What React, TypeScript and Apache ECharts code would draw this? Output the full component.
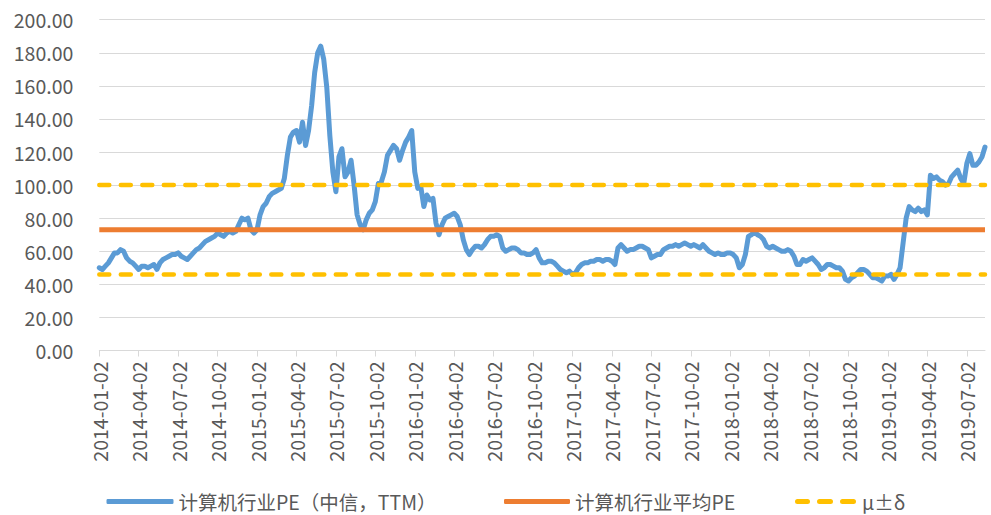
import React, { useEffect, useRef } from "react";
import * as echarts from "echarts";

// Quarter tick labels on the x axis (each quarter holds 13 weekly samples)
const quarterLabels = [
  "2014-01-02", "2014-04-02", "2014-07-02", "2014-10-02",
  "2015-01-02", "2015-04-02", "2015-07-02", "2015-10-02",
  "2016-01-02", "2016-04-02", "2016-07-02", "2016-10-02",
  "2017-01-02", "2017-04-02", "2017-07-02", "2017-10-02",
  "2018-01-02", "2018-04-02", "2018-07-02", "2018-10-02",
  "2019-01-02", "2019-04-02", "2019-07-02",
];
const weeksPerQuarter = 13;

// 计算机行业PE（中信，TTM）— weekly samples
const peValues = [
  50, 49, 51, 53, 56, 59, 59, 61, 60, 56, 54, 53, 51,
  49, 51, 51, 50, 51, 52, 49, 53, 55, 56, 57, 58, 58,
  59, 57, 56, 55, 57, 59, 61, 62, 64, 66, 67, 68, 69,
  71, 70, 69, 71, 72, 71, 72, 76, 80, 79, 80, 73, 71,
  73, 82, 87, 89, 93, 95, 96, 97, 98, 104, 118, 129, 132,
  133, 126, 138, 124, 133, 148, 168, 180, 184, 176, 159, 130, 108,
  96, 117, 122, 105, 108, 115, 100, 82, 76, 73, 79, 83, 85,
  90, 101, 102, 108, 118, 121, 124, 122, 115, 121, 126, 129, 133,
  108, 98, 99, 87, 94, 91, 92, 77, 70, 76, 80, 81, 82,
  83, 81, 76, 67, 61, 58, 61, 63, 63, 62, 64, 67, 69,
  69, 70, 69, 62, 60, 61, 62, 62, 61, 59, 59, 58, 58,
  59, 61, 56, 53, 53, 54, 54, 53, 51, 49, 48, 47, 48,
  46, 47, 50, 52, 53, 53, 54, 54, 55, 55, 54, 55, 55,
  54, 52, 62, 64, 62, 60, 61, 61, 62, 63, 63, 62, 61,
  56, 57, 58, 58, 61, 62, 63, 63, 64, 63, 64, 65, 64,
  63, 64, 63, 62, 64, 62, 60, 59, 58, 59, 58, 58, 59,
  59, 58, 56, 50, 52, 58, 69, 70, 72, 70, 69, 67, 63,
  62, 63, 62, 61, 60, 60, 61, 60, 57, 52, 52, 55, 54,
  55, 56, 54, 52, 49, 50, 52, 52, 51, 50, 50, 48, 43,
  42, 44, 45, 47, 49, 49, 48, 46, 44, 44, 43, 42, 45,
  45, 46, 43, 46, 50, 65, 80, 87, 85, 84, 86, 84, 85,
  82, 106, 104, 105, 103, 102, 100, 101, 105, 107, 109, 104, 101,
  113, 119, 112, 112, 114, 117, 123,
];

const meanPE = 73; // μ
const upperBand = 100; // μ + δ
const lowerBand = 46; // μ - δ

const yMin = 0;
const yMax = 200;
const yInterval = 20;

const NAME_PE = "计算机行业PE（中信，TTM）";
const NAME_MEAN = "计算机行业平均PE";
const NAME_BAND = "μ±δ";

function buildCategories(): string[] {
  const out: string[] = [];
  for (let i = 0; i < peValues.length; i++) {
    const q = Math.floor(i / weeksPerQuarter);
    const j = i % weeksPerQuarter;
    const base = quarterLabels[q];
    if (j === 0) {
      out.push(base);
    } else {
      const [y, m, d] = base.split("-").map(Number);
      const dt = new Date(Date.UTC(y, m - 1, d + 7 * j));
      out.push(dt.toISOString().slice(0, 10));
    }
  }
  return out;
}

const FONT = '"Noto Sans CJK SC", "Noto Sans", sans-serif';
const TEXT_COLOR = "#595959";

export default function App() {
  const ref = useRef<HTMLDivElement>(null);

  useEffect(() => {
    if (!ref.current) return;
    const chart = echarts.init(ref.current, null, { renderer: "svg" });
    const categories = buildCategories();
    const meanData = categories.map(() => meanPE);
    const upperData = categories.map(() => upperBand);
    const lowerData = categories.map(() => lowerBand);

    const legendText = {
      color: TEXT_COLOR,
      fontSize: 19.5,
      fontFamily: FONT,
      lineHeight: 20,
    };
    const legendTop = 491.5;

    const dashIcon =
      "path://M2.5,0H12.5A2.5,2.5,0,0,1,12.5,5H2.5A2.5,2.5,0,0,1,2.5,0Z M24.5,0H35.5A2.5,2.5,0,0,1,35.5,5H24.5A2.5,2.5,0,0,1,24.5,0Z M47.5,0H58.5A2.5,2.5,0,0,1,58.5,5H47.5A2.5,2.5,0,0,1,47.5,0Z";

    chart.setOption({
      animation: false,
      backgroundColor: "#ffffff",
      textStyle: { fontFamily: FONT },
      grid: { left: 99.3, right: 6, top: 19.7, bottom: 164.5, containLabel: false },
      legend: [
        {
          data: [{ name: NAME_PE, icon: "roundRect" }],
          left: 106.5,
          top: legendTop,
          padding: 0,
          itemWidth: 67,
          itemHeight: 5,
          itemStyle: { borderWidth: 0 },
          textStyle: legendText,
          selectedMode: false,
        },
        {
          data: [{ name: NAME_MEAN, icon: "roundRect" }],
          left: 504,
          top: legendTop,
          padding: 0,
          itemWidth: 66,
          itemHeight: 5,
          itemStyle: { borderWidth: 0 },
          textStyle: legendText,
          selectedMode: false,
        },
        {
          data: [{ name: NAME_BAND, icon: dashIcon }],
          left: 795,
          top: legendTop,
          padding: 0,
          itemWidth: 63,
          itemHeight: 5,
          itemStyle: { borderWidth: 0 },
          textStyle: legendText,
          selectedMode: false,
        },
      ],
      xAxis: {
        type: "category",
        data: categories,
        boundaryGap: false,
        axisLine: { lineStyle: { color: "#D9D9D9", width: 1 } },
        axisTick: { show: true, interval: weeksPerQuarter - 1, length: 6, lineStyle: { color: "#D9D9D9" } },
        axisLabel: {
          interval: weeksPerQuarter - 1,
          rotate: 90,
          margin: 11,
          color: TEXT_COLOR,
          fontSize: 19.5,
          fontFamily: FONT,
        },
        splitLine: { show: false },
      },
      yAxis: {
        type: "value",
        min: yMin,
        max: yMax,
        interval: yInterval,
        axisLine: { show: false },
        axisTick: { show: false },
        axisLabel: {
          formatter: (v: number) => v.toFixed(2),
          color: TEXT_COLOR,
          fontSize: 19.5,
          fontFamily: FONT,
          margin: 26,
        },
        splitLine: { lineStyle: { color: "#D9D9D9", width: 1 } },
      },
      series: [
        {
          name: NAME_PE,
          type: "line",
          data: peValues,
          symbol: "none",
          color: "#5B9BD5",
          lineStyle: { color: "#5B9BD5", width: 5, join: "round", cap: "round" },
        },
        {
          name: NAME_MEAN,
          type: "line",
          data: meanData,
          symbol: "none",
          color: "#ED7D31",
          lineStyle: { color: "#ED7D31", width: 5 },
        },
        {
          name: NAME_BAND,
          type: "line",
          data: upperData,
          symbol: "none",
          color: "#FFC000",
          lineStyle: { color: "#FFC000", width: 4.5, type: [10, 11.5], cap: "round" },
        },
        {
          name: NAME_BAND,
          type: "line",
          data: lowerData,
          symbol: "none",
          color: "#FFC000",
          lineStyle: { color: "#FFC000", width: 4.5, type: [10, 11.5], cap: "round" },
        },
      ],
    });
    return () => chart.dispose();
  }, []);

  return (
    <div
      ref={ref}
      style={{ position: "absolute", left: 0, top: 0, width: 991, height: 515, background: "#ffffff" }}
    />
  );
}
